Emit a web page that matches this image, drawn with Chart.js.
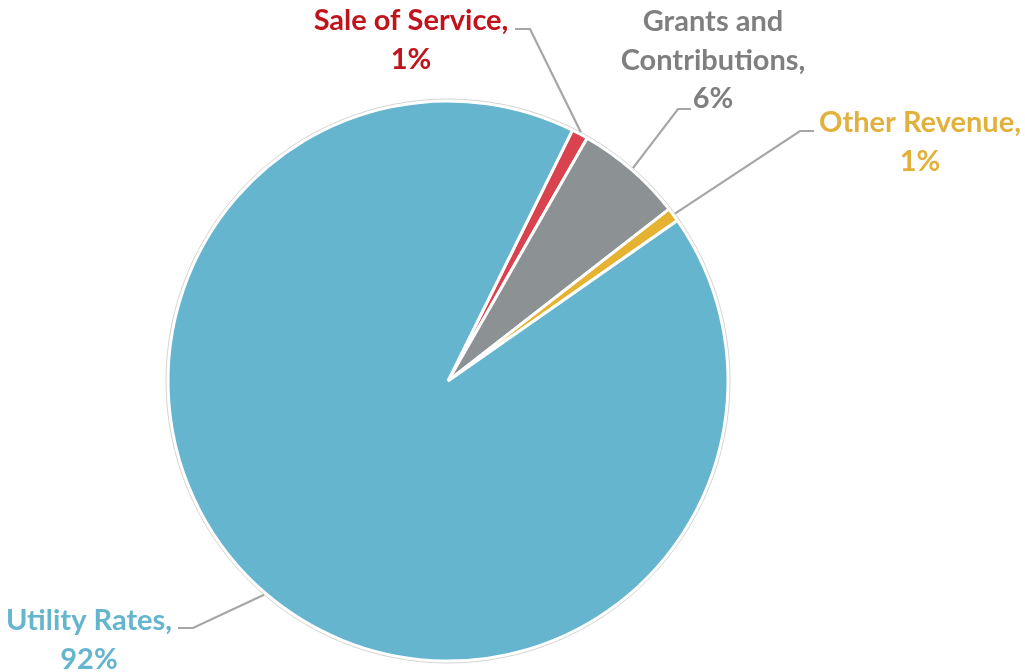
<!DOCTYPE html>
<html>
<head>
<meta charset="utf-8">
<script src="https://cdn.jsdelivr.net/npm/chart.js@4.4.1/dist/chart.umd.min.js"></script>
<style>
  html, body { margin: 0; padding: 0; background: #ffffff; }
  #wrap { width: 1025px; height: 672px; position: relative; }
</style>
</head>
<body>
<div id="wrap"><canvas id="c" width="1025" height="672"></canvas></div>
<script>
// ---- data ----
const categories = ["Sale of Service", "Grants and Contributions", "Other Revenue", "Utility Rates"];
const shareValues = [0.95, 6.2, 0.8, 92.05];
const shareLabels = ["1%", "6%", "1%", "92%"];
const sliceColors = ["#d9424f", "#8c9193", "#e5b232", "#64b5cd"];
const textColors = ["#c0141c", "#7f7f7f", "#e2b13c", "#64b5cd"];
// label text lines (category split across lines as in the reference)
const labelLines = [
  ["Sale of Service,", shareLabels[0]],
  ["Grants and", "Contributions,", shareLabels[1]],
  ["Other Revenue,", shareLabels[2]],
  ["Utility Rates,", shareLabels[3]]
];

// ---- label layout (text anchor, elbow of leader line) ----
const labelLayout = [
  { cx: 411, top: 21, elbow: [530, 29], hEnd: [515, 29] },
  { cx: 713, top: 22, elbow: [678, 109], hEnd: [691, 109] },
  { cx: 920, top: 123, elbow: [800, 131], hEnd: [814, 131] },
  { cx: 89,  top: 621, elbow: [193, 628], hEnd: [178, 628] }
];
const lineGap = 38.5;

const labelPlugin = {
  id: 'pieLabels',
  afterDatasetsDraw(chart) {
    const ctx = chart.ctx;
    const meta = chart.getDatasetMeta(0);
    ctx.save();
    // thin grey outline around the pie
    const a0 = meta.data[0];
    ctx.beginPath();
    ctx.arc(a0.x, a0.y, a0.outerRadius + 2, 0, Math.PI * 2);
    ctx.strokeStyle = '#d4d4d4';
    ctx.lineWidth = 1;
    ctx.stroke();

    meta.data.forEach((arc, i) => {
      const mid = (arc.startAngle + arc.endAngle) / 2;
      const r = arc.outerRadius + 2;
      const px = arc.x + Math.cos(mid) * r;
      const py = arc.y + Math.sin(mid) * r;
      const L = labelLayout[i];
      ctx.beginPath();
      ctx.moveTo(px, py);
      ctx.lineTo(L.elbow[0], L.elbow[1]);
      ctx.lineTo(L.hEnd[0], L.hEnd[1]);
      ctx.strokeStyle = '#a6a6a6';
      ctx.lineWidth = 2.2;
      ctx.stroke();

      ctx.fillStyle = textColors[i];
      ctx.font = 'bold 29px Lato, "Open Sans", sans-serif';
      ctx.textAlign = 'center';
      ctx.textBaseline = 'middle';
      labelLines[i].forEach((t, k) => {
        ctx.fillText(t, L.cx, L.top + k * lineGap);
      });
    });
    ctx.restore();
  }
};

new Chart(document.getElementById('c'), {
  type: 'pie',
  data: {
    labels: categories,
    datasets: [{
      data: shareValues,
      backgroundColor: sliceColors,
      borderColor: '#ffffff',
      borderWidth: 3,
      hoverOffset: 0
    }]
  },
  options: {
    responsive: false,
    animation: false,
    rotation: 26.4,
    radius: 280,
    layout: { padding: { left: 0, right: 129, top: 90, bottom: 0 } },
    plugins: {
      legend: { display: false },
      tooltip: { enabled: false }
    },
    events: []
  },
  plugins: [labelPlugin]
});
</script>
</body>
</html>
